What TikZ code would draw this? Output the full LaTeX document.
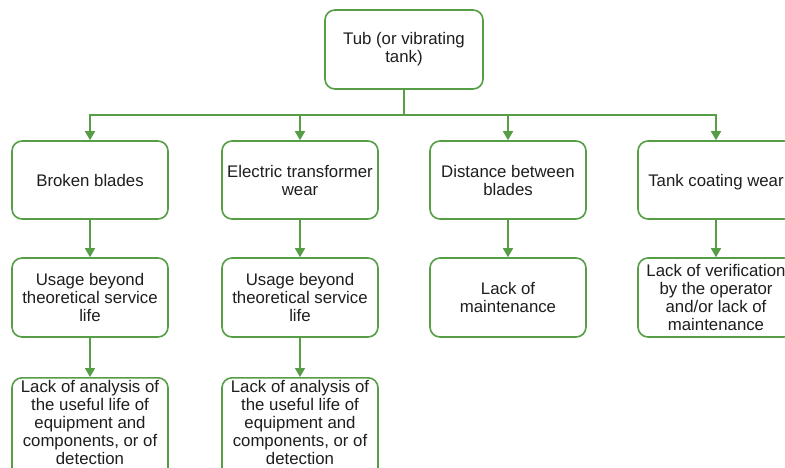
\documentclass[tikz,border=0pt]{standalone}
\usepackage{fontspec}
\setmainfont{Liberation Sans}
\usetikzlibrary{arrows.meta}
\definecolor{grn}{RGB}{86,158,70}
\definecolor{txtc}{RGB}{30,30,30}
\newcommand{\boxfont}{\fontsize{16.8}{18}\selectfont}
\tikzset{
  box/.style={draw=grn, line width=1.6pt, rounded corners=10pt, minimum width=156pt,
    minimum height=78pt, fill=white, inner sep=0pt, font=\boxfont, text=txtc, align=center},
  plaintxt/.style={inner sep=0pt, font=\boxfont, text=txtc, align=center},
  arr/.style={draw=grn, line width=1.6pt, -{Triangle[width=10pt,length=9pt]}},
}
\begin{document}
\begin{tikzpicture}[x=1pt,y=-1pt]
\useasboundingbox (0,0) rectangle (785,468);
\fill[white] (0,0) rectangle (785,468);
\clip (0,0) rectangle (785,468);

\node[box, minimum width=158pt, minimum height=79pt] (top) at (404,49.5) {Tub (or vibrating\\tank)};
\coordinate (bus) at (404,115);

\node[box] (a1) at (90,180) {Broken blades};
\node[box] (b1) at (300,180) {Electric transformer\\wear};
\node[box] (c1) at (508,180) {Distance between\\blades};
\node[box] (d1) at (716,180) {\rule{0pt}{16pt}Tank coating wear};

\node[box, minimum height=79pt] (a2) at (90,297.5) {Usage beyond\\theoretical service\\life};
\node[box, minimum height=79pt] (b2) at (300,297.5) {Usage beyond\\theoretical service\\life};
\node[box, minimum height=79pt] (c2) at (508,297.5) {Lack of\\maintenance};
\node[box, minimum height=79pt] (d2) at (716,297.5) {Lack of verification\\by the operator\\and/or lack of\\maintenance};

\node[box, minimum height=100pt, anchor=north] (a3) at (90,377) {};
\node[plaintxt] (a3t) at (90,422) {Lack of analysis of\\the useful life of\\equipment and\\components, or of\\detection};
\node[box, minimum height=100pt, anchor=north] (b3) at (300,377) {};
\node[plaintxt] (b3t) at (300,422) {Lack of analysis of\\the useful life of\\equipment and\\components, or of\\detection};

\draw[arr] (top.south) -- (bus) -| (a1.north);
\draw[arr] (top.south) -- (bus) -| (b1.north);
\draw[arr] (top.south) -- (bus) -| (c1.north);
\draw[arr] (top.south) -- (bus) -| (d1.north);

\draw[arr] (a1.south) -- (a2.north);
\draw[arr] (b1.south) -- (b2.north);
\draw[arr] (c1.south) -- (c2.north);
\draw[arr] (d1.south) -- (d2.north);

\draw[arr] (a2.south) -- (a3.north);
\draw[arr] (b2.south) -- (b3.north);
\end{tikzpicture}
\end{document}
